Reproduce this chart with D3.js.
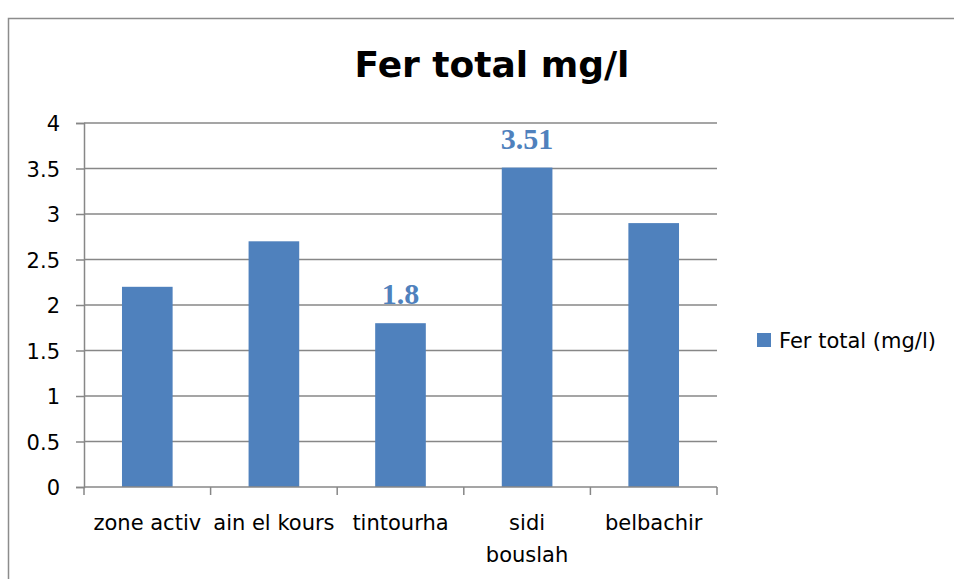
<!DOCTYPE html>
<html>
<head>
<meta charset="utf-8">
<script src="https://cdn.jsdelivr.net/npm/d3@7"></script>
<style>
  body { margin: 0; background: #fff; }
  text { font-family: "DejaVu Sans", sans-serif; }
</style>
</head>
<body>
<svg id="chart"></svg>
<script>
const categories = ["zone activ", "ain el kours", "tintourha", "sidi bouslah", "belbachir"];
const values = [2.2, 2.7, 1.8, 3.51, 2.9];
const labelled = ["tintourha", "sidi bouslah"];
const yTicks = [0, 0.5, 1, 1.5, 2, 2.5, 3, 3.5, 4];
const seriesName = "Fer total (mg/l)";
const title = "Fer total mg/l";

const width = 954, height = 579;
const margin = { top: 123, left: 84, right: 237, bottom: 92 };
const blue = "#4f81bd";
const grey = "#878787";

const svg = d3.select("#chart").attr("width", width).attr("height", height);

// outer chart frame
svg.append("rect")
    .attr("x", 8.5).attr("y", 18.5)
    .attr("width", width).attr("height", height)
    .attr("fill", "none").attr("stroke", "#8c8c8c").attr("stroke-width", 1.5);

const x = d3.scaleBand()
    .domain(categories)
    .range([margin.left, width - margin.right])
    .paddingInner(0.6).paddingOuter(0.3);

const y = d3.scaleLinear()
    .domain([0, 4])
    .range([height - margin.bottom, margin.top]);

svg.append("text")
    .attr("x", 492).attr("y", 77)
    .attr("text-anchor", "middle")
    .style("font-size", "36px").style("font-weight", "bold")
    .text(title);

// gridlines
svg.append("g")
    .selectAll("line")
    .data(yTicks.slice(1))
    .join("line")
    .attr("x1", margin.left).attr("x2", width - margin.right)
    .attr("y1", d => y(d)).attr("y2", d => y(d))
    .attr("stroke", grey).attr("stroke-width", 1.5);

// y axis
const yAxis = svg.append("g")
    .attr("transform", `translate(${margin.left},0)`)
    .call(d3.axisLeft(y).tickValues(yTicks).tickSize(8).tickPadding(16).tickFormat(d3.format("")));
yAxis.select(".domain").attr("stroke", grey).attr("stroke-width", 1.5);
yAxis.selectAll(".tick line").attr("stroke", grey).attr("stroke-width", 1.5);
yAxis.selectAll("text").style("font-size", "21px").attr("fill", "#000").attr("dy", "0.36em");

// bars
svg.append("g")
    .selectAll("rect")
    .data(categories)
    .join("rect")
    .attr("x", d => x(d))
    .attr("width", x.bandwidth())
    .attr("y", (d, i) => y(values[i]))
    .attr("height", (d, i) => y(0) - y(values[i]))
    .attr("fill", blue);

// x axis
const xAxisY = y(0);
const xg = svg.append("g");
xg.append("line")
    .attr("x1", margin.left).attr("x2", width - margin.right)
    .attr("y1", xAxisY).attr("y2", xAxisY)
    .attr("stroke", grey).attr("stroke-width", 1.5);
const edges = d3.range(categories.length + 1).map(i => margin.left + i * (width - margin.right - margin.left) / categories.length);
xg.selectAll(".xt")
    .data(edges)
    .join("line")
    .attr("x1", d => d).attr("x2", d => d)
    .attr("y1", xAxisY).attr("y2", xAxisY + 8)
    .attr("stroke", grey).attr("stroke-width", 1.5);

const lines = { "sidi bouslah": ["sidi", "bouslah"] };
xg.selectAll(".xl")
    .data(categories)
    .join("text")
    .attr("text-anchor", "middle")
    .attr("x", d => x(d) + x.bandwidth() / 2)
    .attr("y", 530)
    .style("font-size", "21px")
    .each(function (d) {
        const parts = lines[d] || [d];
        d3.select(this).selectAll("tspan")
            .data(parts)
            .join("tspan")
            .attr("x", x(d) + x.bandwidth() / 2)
            .attr("dy", (p, i) => i === 0 ? 0 : 32)
            .text(p => p);
    });

// data labels
svg.append("g")
    .selectAll("text")
    .data(categories.filter(c => labelled.includes(c)))
    .join("text")
    .attr("text-anchor", "middle")
    .attr("x", d => x(d) + x.bandwidth() / 2)
    .attr("y", d => y(values[categories.indexOf(d)]) - 19)
    .attr("fill", blue)
    .style("font-family", "'Liberation Serif', 'Times New Roman', serif")
    .style("font-size", "30px").style("font-weight", "bold")
    .text(d => values[categories.indexOf(d)]);

// legend
const lg = svg.append("g").attr("transform", "translate(757,333)");
lg.append("rect").attr("width", 14).attr("height", 14).attr("fill", blue);
lg.append("text").attr("x", 22).attr("y", 15)
    .style("font-size", "21px")
    .text(seriesName);
</script>
</body>
</html>
